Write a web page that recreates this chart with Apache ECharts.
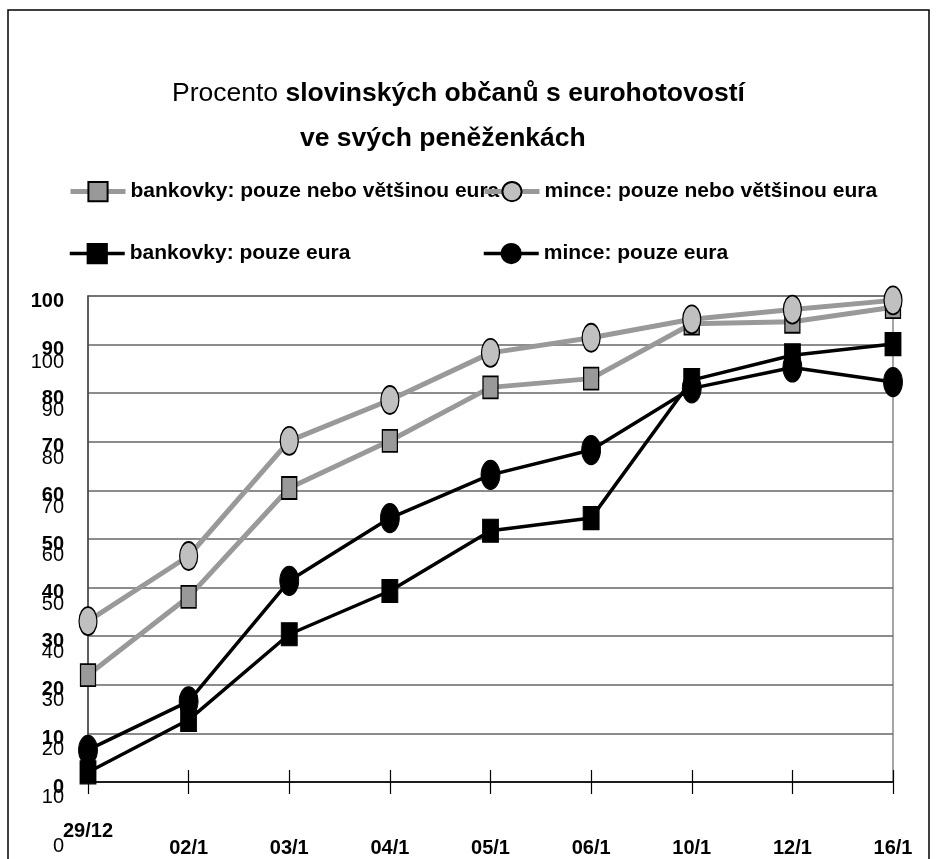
<!DOCTYPE html>
<html>
<head>
<meta charset="utf-8">
<script src="https://cdn.jsdelivr.net/npm/echarts@6/dist/echarts.min.js"></script>
<style>
  html, body { margin: 0; padding: 0; background: #fff; }
  #main { width: 938px; height: 859px; }
</style>
</head>
<body>
<div id="main"></div>
<script>
// data
var dates = ['29/12', '02/1', '03/1', '04/1', '05/1', '06/1', '10/1', '12/1', '16/1'];
var bankovkyVetsinou = [22.0, 38.1, 60.5, 70.2, 81.2, 83.0, 94.3, 94.7, 97.7];
var minceVetsinou = [33.1, 46.5, 70.2, 78.6, 88.3, 91.4, 95.2, 97.2, 99.1];
var bankovkyEura = [2.0, 12.8, 30.4, 39.3, 51.7, 54.3, 82.7, 87.8, 90.1];
var minceEura = [6.6, 16.6, 41.4, 54.3, 63.2, 68.3, 81.0, 85.3, 82.3];
var names = [
  'bankovky: pouze nebo většinou eura',
  'mince: pouze nebo většinou eura',
  'bankovky: pouze eura',
  'mince: pouze eura'
];

var font = 'Liberation Sans';
var chart = echarts.init(document.getElementById('main'));

var legendText = { fontFamily: font, fontSize: 21, fontWeight: 'bold', color: '#000' };
function legendAt(name, left, top, lineColor, lineWidth) {
  return {
    data: [name], left: left, top: top, padding: 0,
    itemWidth: 55, itemHeight: 24,
    selectedMode: false,
    lineStyle: { color: lineColor, width: lineWidth },
    textStyle: legendText
  };
}

var option = {
  animation: false,
  backgroundColor: '#fff',
  textStyle: { fontFamily: font },
  graphic: [{
    type: 'rect',
    shape: { x: 8, y: 10, width: 921, height: 880 },
    style: { fill: 'none', stroke: '#000', lineWidth: 1.5 },
    silent: true
  }],
  title: [{
    text: '{r|Procento }{b|slovinských občanů s eurohotovostí}',
    left: 172, top: 80, padding: 0,
    textStyle: {
      rich: {
        r: { fontFamily: font, fontSize: 26.5, fontWeight: 'normal', color: '#000' },
        b: { fontFamily: font, fontSize: 26.5, fontWeight: 'bold', color: '#000' }
      }
    }
  }, {
    text: 've svých peněženkách',
    left: 300, top: 125, padding: 0,
    textStyle: { fontFamily: font, fontSize: 26.5, fontWeight: 'bold', color: '#000' }
  }],
  legend: [
    legendAt(names[0], 68, 181, '#999', 5),
    legendAt(names[1], 482, 181, '#999', 5),
    legendAt(names[2], 68, 243, '#000', 3.5),
    legendAt(names[3], 482, 243, '#000', 3.5)
  ],
  grid: [
    { left: 88, right: 45, top: 296, bottom: 77, show: true, borderColor: '#888', borderWidth: 1.5 },
    { left: 88, right: 45, top: 362, bottom: 13 }
  ],
  xAxis: [{
    type: 'category', gridIndex: 0, data: dates, boundaryGap: false,
    axisLine: { lineStyle: { color: '#000', width: 1.5 } },
    axisTick: { length: 12, lineStyle: { color: '#000', width: 1.2 } },
    axisLabel: {
      margin: 41, interval: 0,
      formatter: function (v, i) { return i === 0 ? '{a|' + v + '}' : '{b|' + v + '}'; },
      rich: {
        a: { fontFamily: font, fontSize: 20, fontWeight: 'bold', color: '#000', lineHeight: 16 },
        b: { fontFamily: font, fontSize: 20, fontWeight: 'bold', color: '#000', lineHeight: 50 }
      }
    }
  }, {
    type: 'category', gridIndex: 0, data: dates, boundaryGap: false,
    position: 'bottom', offset: 0,
    axisLine: { show: false },
    axisTick: { inside: true, length: 12, lineStyle: { color: '#000', width: 1.2 } },
    axisLabel: { show: false }
  }, {
    type: 'value', gridIndex: 1, show: false
  }],
  yAxis: [{
    type: 'value', gridIndex: 0, min: 0, max: 100, interval: 10,
    axisLine: { show: true, lineStyle: { color: '#444', width: 1.5 } },
    axisTick: { show: false },
    splitLine: { lineStyle: { color: '#666', width: 1.5 } },
    axisLabel: {
      margin: 24, verticalAlign: 'top', lineHeight: 10,
      fontFamily: font, fontSize: 20, fontWeight: 'bold', color: '#000'
    }
  }, {
    type: 'value', gridIndex: 1, min: 0, max: 100, interval: 10,
    axisLine: { show: false }, axisTick: { show: false }, splitLine: { show: false },
    axisLabel: { margin: 24, fontFamily: font, fontSize: 20, color: '#000' }
  }],
  series: [{
    name: names[0], type: 'line', data: bankovkyVetsinou,
    symbol: 'rect', symbolSize: [15, 22],
    lineStyle: { color: '#999', width: 5 },
    itemStyle: { color: '#999', borderColor: '#000', borderWidth: 1.5 },
    z: 2
  }, {
    name: names[2], type: 'line', data: bankovkyEura,
    symbol: 'rect', symbolSize: [16, 23],
    lineStyle: { color: '#000', width: 3.5 },
    itemStyle: { color: '#000', borderColor: '#000', borderWidth: 1 },
    z: 3
  }, {
    name: names[1], type: 'line', data: minceVetsinou,
    symbol: 'circle', symbolSize: [18, 28],
    lineStyle: { color: '#999', width: 5 },
    itemStyle: { color: '#c0c0c0', borderColor: '#000', borderWidth: 1.5 },
    z: 4
  }, {
    name: names[3], type: 'line', data: minceEura,
    symbol: 'circle', symbolSize: [19, 29],
    lineStyle: { color: '#000', width: 3.5 },
    itemStyle: { color: '#000', borderColor: '#000', borderWidth: 1 },
    z: 5
  }]
};

chart.setOption(option);
</script>
</body>
</html>
